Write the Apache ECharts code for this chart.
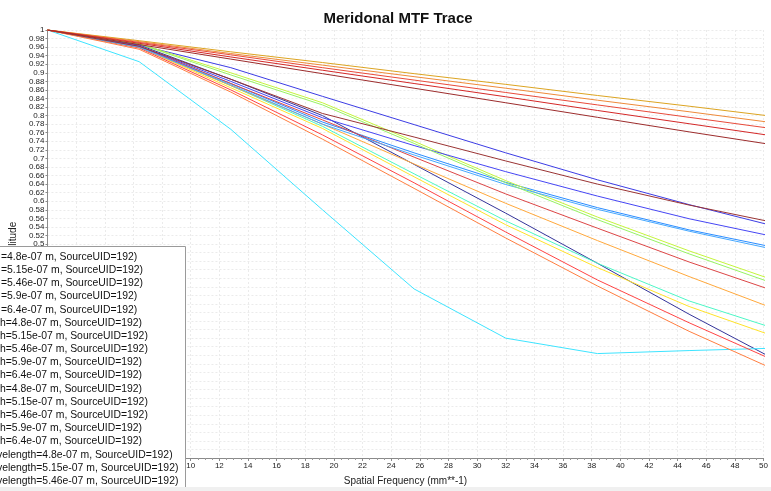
<!DOCTYPE html>
<html>
<head>
<meta charset="utf-8">
<script src="https://cdn.jsdelivr.net/npm/echarts@6/dist/echarts.min.js"></script>
<style>
html,body{margin:0;padding:0;background:#fff;}
#chart{width:771px;height:491px;}
</style>
</head>
<body>
<div id="chart"></div>
<script>
// ---- data ----
const titleText = "Meridonal MTF Trace";
const xAxisName = "Spatial Frequency (mm**-1)";
const yAxisName = "Amplitude";
const freq = [0, 6.4, 12.8, 19.2, 25.6, 32, 38.4, 44.8, 51.2];

const mtfDarkBlue = [1, 0.965, 0.885, 0.800, 0.686, 0.572, 0.455, 0.336, 0.223];
const mtfCyan     = [1, 0.926, 0.768, 0.580, 0.395, 0.280, 0.244, 0.251, 0.257];
const mtfAqua     = [1, 0.962, 0.870, 0.775, 0.664, 0.554, 0.455, 0.367, 0.298];
const mtfYellow   = [1, 0.960, 0.865, 0.770, 0.657, 0.545, 0.445, 0.354, 0.279];
const mtfRed4     = [1, 0.958, 0.860, 0.755, 0.643, 0.528, 0.416, 0.316, 0.221];
const mtfBlueA    = [1, 0.965, 0.912, 0.845, 0.779, 0.713, 0.650, 0.592, 0.538];
const mtfLightB1  = [1, 0.960, 0.875, 0.785, 0.713, 0.644, 0.585, 0.533, 0.489];
const mtfYGreen   = [1, 0.968, 0.900, 0.830, 0.740, 0.648, 0.563, 0.484, 0.410];
const mtfOrange2  = [1, 0.960, 0.870, 0.780, 0.687, 0.595, 0.508, 0.424, 0.343];
const mtfRed3     = [1, 0.962, 0.875, 0.790, 0.703, 0.617, 0.537, 0.458, 0.385];
const mtfBlueB    = [1, 0.962, 0.880, 0.795, 0.730, 0.669, 0.612, 0.559, 0.514];
const mtfLightB2  = [1, 0.960, 0.872, 0.780, 0.708, 0.639, 0.581, 0.530, 0.484];
const mtfGreen    = [1, 0.967, 0.895, 0.825, 0.735, 0.643, 0.557, 0.477, 0.402];
const mtfOrange3  = [1, 0.955, 0.855, 0.745, 0.630, 0.514, 0.402, 0.296, 0.200];
const mtfBrown    = [1, 0.962, 0.885, 0.805, 0.750, 0.694, 0.640, 0.591, 0.547];
const mtfGold     = [1, 0.975, 0.949, 0.924, 0.898, 0.873, 0.847, 0.822, 0.796];
const mtfOrange1  = [1, 0.973, 0.945, 0.918, 0.891, 0.864, 0.836, 0.809, 0.781];
const mtfRed1     = [1, 0.971, 0.942, 0.912, 0.883, 0.854, 0.825, 0.796, 0.767];
const mtfRed2     = [1, 0.969, 0.937, 0.906, 0.875, 0.844, 0.812, 0.781, 0.750];
const mtfDarkRed  = [1, 0.966, 0.932, 0.898, 0.864, 0.830, 0.796, 0.762, 0.729];

const legendLabels = [
  "=4.8e-07 m, SourceUID=192)",
  "=5.15e-07 m, SourceUID=192)",
  "=5.46e-07 m, SourceUID=192)",
  "=5.9e-07 m, SourceUID=192)",
  "=6.4e-07 m, SourceUID=192)",
  "h=4.8e-07 m, SourceUID=192)",
  "h=5.15e-07 m, SourceUID=192)",
  "h=5.46e-07 m, SourceUID=192)",
  "h=5.9e-07 m, SourceUID=192)",
  "h=6.4e-07 m, SourceUID=192)",
  "h=4.8e-07 m, SourceUID=192)",
  "h=5.15e-07 m, SourceUID=192)",
  "h=5.46e-07 m, SourceUID=192)",
  "h=5.9e-07 m, SourceUID=192)",
  "h=6.4e-07 m, SourceUID=192)",
  "velength=4.8e-07 m, SourceUID=192)",
  "velength=5.15e-07 m, SourceUID=192)",
  "velength=5.46e-07 m, SourceUID=192)",
  "velength=5.9e-07 m, SourceUID=192)",
  "velength=6.4e-07 m, SourceUID=192)"
];

const seriesValues = [
  mtfDarkBlue, mtfCyan, mtfAqua, mtfYellow, mtfRed4,
  mtfBlueA, mtfLightB1, mtfYGreen, mtfOrange2, mtfRed3,
  mtfBlueB, mtfLightB2, mtfGreen, mtfOrange3, mtfBrown,
  mtfGold, mtfOrange1, mtfRed1, mtfRed2, mtfDarkRed
];

// ---- styles ----
const lineColors = [
  "#34349a", "#3ee4ff", "#4cf7c6", "#ffe22a", "#ff4444",
  "#3c3ce4", "#2a8cff", "#c4f43c", "#ffa83c", "#dc4646",
  "#4646f4", "#46a8ff", "#96f264", "#ff7e40", "#9a3434",
  "#dca422", "#ee8a3a", "#e84a3a", "#d42828", "#9c2c2c"
];

const chart = echarts.init(document.getElementById('chart'), null, {renderer: 'canvas'});

const series = seriesValues.map((vals, i) => ({
  name: legendLabels[i] + " #" + i,
  type: 'line',
  data: freq.map((f, k) => [f, vals[k]]),
  showSymbol: false,
  symbol: 'none',
  lineStyle: {width: 1, color: lineColors[i]},
  itemStyle: {color: lineColors[i]},
  clip: true,
  silent: true
}));

const legendGraphics = [{
  type: 'rect',
  shape: {x: -2, y: 246.5, width: 187.5, height: 260},
  style: {fill: '#ffffff', stroke: '#9a9a9a', lineWidth: 1},
  z: 100
}];
const legendX = [1, 1, 1, 1, 1, 0, 0, 0, 0, 0, 0, 0, 0, 0, 0, -3, -3, -3, -3, -3];
legendLabels.forEach((t, i) => {
  legendGraphics.push({
    type: 'text',
    x: legendX[i],
    y: 257 + 13.18 * i,
    style: {
      text: t,
      fill: '#111',
      font: '10.4px "Liberation Sans", Arial, sans-serif',
      textVerticalAlign: 'middle',
      textAlign: 'left'
    },
    z: 101
  });
});
legendGraphics.push({
  type: 'rect',
  shape: {x: 0, y: 487, width: 771, height: 4},
  style: {fill: '#f0f0f0'},
  z: 102
});

const option = {
  animation: false,
  backgroundColor: '#ffffff',
  title: {
    text: titleText,
    left: 393,
    top: 6,
    textAlign: 'center',
    textStyle: {fontFamily: '"Liberation Sans", Arial, sans-serif', fontWeight: 'bold', fontSize: 15, color: '#111'}
  },
  grid: {left: 43, right: 3, top: 30, bottom: 30, containLabel: false},
  xAxis: {
    type: 'value',
    min: 0, max: 50, interval: 2,
    name: xAxisName,
    nameLocation: 'middle',
    nameGap: 18,
    nameTextStyle: {fontFamily: '"Liberation Sans", Arial, sans-serif', fontSize: 10, color: '#222'},
    axisLine: {show: true, onZero: false, lineStyle: {color: '#8a8a8a', width: 1}},
    axisTick: {show: true, length: 3, lineStyle: {color: '#8a8a8a'}},
    minorTick: {show: true, splitNumber: 4, length: 2, lineStyle: {color: '#9a9a9a'}},
    axisLabel: {fontFamily: '"Liberation Sans", Arial, sans-serif', fontSize: 8, color: '#222', margin: 4},
    splitLine: {show: true, lineStyle: {color: '#ebebeb', type: [2, 2], width: 1}}
  },
  yAxis: {
    type: 'value',
    min: 0, max: 1, interval: 0.02,
    name: yAxisName,
    nameLocation: 'middle',
    nameGap: 25,
    nameRotate: 90,
    nameTextStyle: {fontFamily: '"Liberation Sans", Arial, sans-serif', fontSize: 10, color: '#222'},
    axisLine: {show: true, lineStyle: {color: '#8a8a8a', width: 1}},
    axisTick: {show: true, length: 2, lineStyle: {color: '#8a8a8a'}},
    axisLabel: {fontFamily: '"Liberation Sans", Arial, sans-serif', fontSize: 8, color: '#222', margin: 3},
    splitLine: {show: true, lineStyle: {color: '#ebebeb', type: [2, 2], width: 1}}
  },
  series: series,
  graphic: legendGraphics
};
chart.setOption(option);
</script>
</body>
</html>
